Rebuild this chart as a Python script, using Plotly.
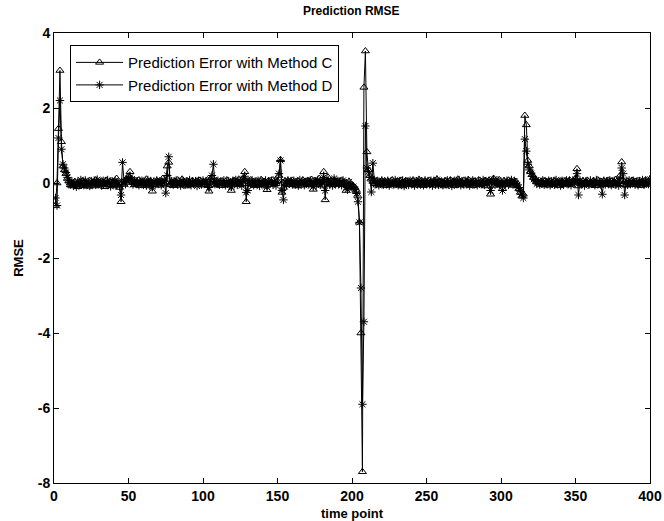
import plotly.graph_objects as go

time_points = list(range(1, 401))

method_c = [
    -0.60, 0.00, 1.45, 3.00, 1.10, 0.45, 0.35, 0.25, 0.12, 0.05,
    -0.05, -0.08, -0.02, 0.03, -0.06, -0.10, 0.02, -0.04, 0.05, -0.07,
    0.04, -0.03, -0.09, 0.06, -0.02, 0.01, -0.08, 0.08, -0.04, 0.02,
    -0.06, 0.05, -0.03, -0.10, 0.07, 0.00, -0.05, 0.03, -0.08, 0.04,
    -0.02, 0.12, -0.06, -0.12, -0.50, 0.02, -0.04, 0.06, 0.10, 0.18,
    0.30, 0.12, 0.03, -0.05, 0.06, -0.03, 0.08, -0.07, 0.02, 0.05,
    -0.04, 0.10, -0.02, -0.08, 0.04, -0.22, -0.05, 0.01, 0.06, 0.03,
    -0.06, 0.04, 0.12, -0.03, 0.02, 0.45, 0.55, -0.05, 0.03, -0.07,
    0.05, -0.02, 0.08, -0.06, 0.02, 0.10, -0.04, 0.03, -0.08, 0.04,
    0.00, -0.05, 0.06, -0.02, 0.02, 0.05, -0.03, 0.07, -0.06, 0.03,
    -0.04, 0.02, 0.08, -0.22, 0.10, 0.15, 0.04, -0.05, 0.06, -0.02,
    0.03, -0.07, 0.05, 0.00, -0.04, 0.08, -0.06, 0.02, -0.20, 0.04,
    0.06, -0.03, 0.02, 0.10, -0.05, 0.07, 0.12, 0.30, -0.50, 0.05,
    -0.02, 0.08, -0.04, 0.03, -0.07, 0.05, 0.00, -0.05, 0.09, -0.03,
    0.04, -0.06, -0.18, 0.02, 0.06, -0.04, 0.08, -0.02, 0.03, 0.05,
    0.20, 0.62, -0.25, -0.12, 0.05, -0.03, 0.06, -0.05, 0.02, 0.07,
    -0.04, 0.03, -0.08, 0.05, 0.00, -0.06, 0.08, -0.02, 0.04, -0.05,
    0.06, -0.03, 0.09, -0.17, 0.02, 0.05, -0.04, 0.12, 0.03, -0.06,
    0.30, -0.45, 0.05, 0.15, -0.02, 0.06, -0.05, 0.08, 0.02, -0.04,
    0.05, -0.03, 0.07, -0.05, 0.02, -0.20, -0.08, 0.04, -0.06, -0.10,
    -0.08, -0.12, -0.20, -0.35, -1.05, -4.00, -7.70, 2.55, 3.52, 0.83,
    0.35, 0.20, 0.10, 0.04, -0.02, 0.05, -0.06, 0.03, -0.04, 0.06,
    -0.03, 0.02, -0.07, 0.05, 0.00, -0.05, 0.08, -0.02, 0.03, -0.06,
    0.04, -0.04, 0.07, -0.08, 0.02, 0.06, -0.03, 0.05, -0.05, 0.01,
    0.08, -0.02, -0.06, 0.04, 0.09, -0.04, 0.03, -0.07, 0.05, 0.00,
    -0.05, 0.07, 0.02, -0.03, 0.06, -0.06, 0.10, -0.02, 0.04, -0.05,
    0.03, -0.08, 0.06, 0.01, -0.04, 0.08, -0.03, 0.05, -0.07, 0.02,
    0.10, -0.05, 0.04, -0.02, 0.07, -0.06, 0.03, 0.09, -0.04, 0.01,
    -0.07, 0.05, 0.02, -0.03, 0.08, -0.05, 0.04, -0.02, 0.06, -0.08,
    0.03, 0.07, -0.30, 0.02, 0.12, -0.06, 0.05, -0.02, 0.08, -0.05,
    -0.15, 0.06, 0.00, -0.04, 0.07, -0.03, 0.05, -0.06, 0.02, 0.04,
    -0.08, -0.15, -0.25, -0.35, -0.30, 1.80, 1.55, 0.60, 0.45, 0.30,
    0.22, 0.15, 0.10, 0.05, 0.02, -0.03, 0.04, -0.05, 0.06, -0.02,
    0.03, -0.06, 0.05, 0.00, -0.04, 0.07, -0.03, 0.02, -0.07, 0.05,
    0.04, -0.02, 0.06, -0.05, 0.03, 0.08, -0.04, 0.01, 0.05, 0.12,
    0.38, -0.08, 0.04, -0.03, 0.06, -0.05, 0.02, 0.07, -0.04, 0.03,
    -0.06, 0.05, 0.00, -0.07, 0.08, -0.02, 0.04, -0.05, 0.06, -0.03,
    0.02, 0.07, -0.04, 0.05, -0.06, 0.03, 0.09, -0.02, 0.04, 0.20,
    0.56, -0.05, 0.03, -0.06, 0.05, 0.01, -0.04, 0.07, -0.03, 0.04,
    -0.05, 0.06, 0.02, -0.07, 0.05, -0.02, 0.08, -0.04, 0.03, 0.10,
]

method_d = [
    -0.40, -0.60, 1.20, 2.20, 0.90, 0.50, 0.40, 0.28, 0.15, 0.02,
    -0.03, 0.05, -0.07, 0.02, -0.10, 0.04, -0.05, 0.08, -0.02, -0.06,
    0.07, -0.04, 0.01, -0.08, 0.05, -0.03, 0.06, -0.05, 0.09, -0.01,
    0.03, -0.07, 0.06, 0.00, -0.05, 0.08, -0.02, -0.09, 0.05, -0.03,
    0.06, -0.04, 0.02, -0.08, -0.32, 0.55, 0.05, -0.03, 0.08, 0.12,
    0.15, 0.05, -0.04, 0.07, -0.02, 0.04, -0.06, 0.03, 0.06, -0.05,
    0.02, -0.07, 0.08, -0.03, 0.05, -0.10, 0.03, -0.04, 0.07, -0.02,
    0.04, -0.06, 0.02, 0.08, -0.27, 0.20, 0.70, -0.03, 0.05, -0.05,
    0.03, 0.07, -0.04, 0.01, -0.07, 0.06, 0.02, -0.05, 0.04, -0.02,
    0.08, -0.06, 0.03, -0.02, 0.05, -0.08, 0.06, 0.00, -0.04, 0.07,
    -0.02, 0.05, -0.06, -0.12, 0.04, 0.20, 0.50, -0.03, 0.02, 0.06,
    -0.05, 0.03, -0.02, 0.07, -0.06, 0.02, 0.05, -0.04, -0.10, 0.06,
    -0.03, 0.08, -0.05, 0.02, 0.04, -0.07, 0.06, 0.18, -0.25, -0.20,
    0.05, -0.03, 0.07, -0.06, 0.02, -0.02, 0.06, -0.08, 0.04, 0.01,
    -0.05, 0.07, -0.10, 0.04, -0.02, 0.06, -0.04, 0.03, -0.07, 0.02,
    0.25, 0.60, -0.20, -0.45, 0.03, -0.05, 0.07, -0.02, 0.05, -0.04,
    0.06, -0.03, 0.02, -0.07, 0.08, -0.01, 0.04, -0.06, 0.03, 0.05,
    -0.04, 0.07, -0.02, -0.10, 0.05, -0.06, 0.08, 0.02, -0.05, 0.04,
    0.15, -0.20, 0.03, 0.08, -0.04, 0.05, -0.07, 0.12, -0.02, 0.06,
    -0.03, 0.04, -0.06, 0.07, -0.02, -0.05, -0.18, 0.03, -0.08, -0.12,
    -0.10, -0.18, -0.28, -0.50, -1.05, -2.80, -5.90, -3.70, 1.52, 0.40,
    0.30, 0.15, -0.24, 0.53, 0.08, -0.03, 0.05, -0.06, 0.02, 0.07,
    -0.05, 0.04, -0.02, 0.06, -0.07, 0.03, 0.01, -0.04, 0.08, -0.02,
    -0.06, 0.05, -0.03, 0.07, -0.08, 0.02, 0.04, -0.05, 0.06, -0.01,
    0.03, -0.07, 0.05, -0.02, 0.08, -0.04, 0.01, -0.06, 0.07, -0.03,
    0.05, -0.02, 0.06, -0.07, 0.03, -0.04, 0.09, -0.05, 0.02, 0.04,
    -0.06, 0.03, -0.02, 0.07, -0.05, 0.05, -0.08, 0.02, 0.06, -0.03,
    0.04, 0.08, -0.06, 0.01, -0.04, 0.06, -0.02, 0.05, -0.07, 0.03,
    0.07, -0.04, 0.02, -0.06, 0.05, 0.00, -0.03, 0.08, -0.05, 0.04,
    -0.02, 0.06, -0.20, 0.03, 0.10, -0.05, 0.02, 0.07, -0.04, 0.01,
    -0.20, 0.04, -0.03, 0.06, -0.05, 0.02, 0.08, -0.04, 0.05, -0.02,
    -0.05, -0.12, -0.22, -0.30, -0.40, 1.17, 0.85, 0.50, 0.35, 0.25,
    0.18, 0.10, 0.06, -0.02, 0.05, -0.04, 0.03, 0.07, -0.05, 0.02,
    -0.03, 0.06, -0.06, 0.04, 0.01, -0.05, 0.08, -0.02, 0.03, -0.07,
    0.06, -0.04, 0.02, 0.07, -0.03, 0.05, -0.06, 0.04, 0.02, 0.10,
    0.25, -0.32, 0.06, -0.02, 0.04, -0.07, 0.05, 0.01, -0.05, 0.07,
    -0.02, 0.04, -0.06, 0.08, -0.03, 0.02, -0.05, -0.30, 0.06, -0.04,
    0.05, -0.02, 0.07, -0.06, 0.03, 0.06, -0.04, 0.02, -0.07, 0.12,
    0.40, 0.25, -0.32, 0.04, -0.05, 0.07, -0.03, 0.02, 0.06, -0.04,
    0.03, -0.06, 0.05, -0.02, 0.08, -0.05, 0.04, 0.01, -0.03, 0.10,
]

x_ticks = [0, 50, 100, 150, 200, 250, 300, 350, 400]
x_tick_labels = ["0", "50", "100", "150", "200", "250", "300", "350", "400"]
y_ticks = [-8, -6, -4, -2, 0, 2, 4]
y_tick_labels = ["-8", "-6", "-4", "-2", "0", "2", "4"]

FONT = "Liberation Sans, Arial, sans-serif"

fig = go.Figure()
fig.add_trace(go.Scatter(
    x=time_points, y=method_c, mode="lines+markers",
    name="Prediction Error with Method C",
    line=dict(color="#000000", width=1),
    marker=dict(symbol="triangle-up-open", size=7, color="#000000",
                line=dict(width=1, color="#000000")),
))
fig.add_trace(go.Scatter(
    x=time_points, y=method_d, mode="lines+markers",
    name="Prediction Error with Method D",
    line=dict(color="#000000", width=1),
    marker=dict(symbol="asterisk-open", size=7, color="#000000",
                line=dict(width=1, color="#000000")),
))

axis_common = dict(
    showgrid=False, zeroline=False, showline=True, linecolor="#000000",
    linewidth=1, mirror="ticks", ticks="inside", ticklen=5,
    tickcolor="#000000", tickwidth=1, automargin=False,
    tickfont=dict(family=FONT, size=14, color="#000000", weight="bold"),
)

fig.update_layout(
    width=664, height=521,
    margin=dict(l=54, r=14, t=33, b=38),
    paper_bgcolor="#ffffff", plot_bgcolor="#ffffff",
    title=dict(text="<b>Prediction RMSE</b>", x=0.529, xanchor="center",
               y=0.98, yanchor="middle",
               font=dict(family=FONT, size=12, color="#000000")),
    xaxis=dict(range=[0, 400], tickvals=x_ticks, ticktext=x_tick_labels,
               **axis_common),
    yaxis=dict(range=[-8, 4], tickvals=y_ticks, ticktext=y_tick_labels,
               title=dict(text="<b>RMSE</b>", standoff=11,
                          font=dict(family=FONT, size=13, color="#000000")),
               **axis_common),
    legend=dict(x=0.027, y=0.973, xanchor="left", yanchor="top",
                bgcolor="#ffffff", bordercolor="#000000", borderwidth=1,
                font=dict(family=FONT, size=15, color="#000000"),
                tracegroupgap=0, itemwidth=47),
    showlegend=True,
    annotations=[dict(text="<b>time point</b>", xref="paper", yref="paper",
                      x=0.5, y=0, xanchor="center", yanchor="top",
                      yshift=-21, showarrow=False,
                      font=dict(family=FONT, size=13, color="#000000"))],
)

fig.write_html("out.html",
               config={"displayModeBar": False},
               post_script="document.body.style.margin='0px';document.body.style.overflow='hidden';")
